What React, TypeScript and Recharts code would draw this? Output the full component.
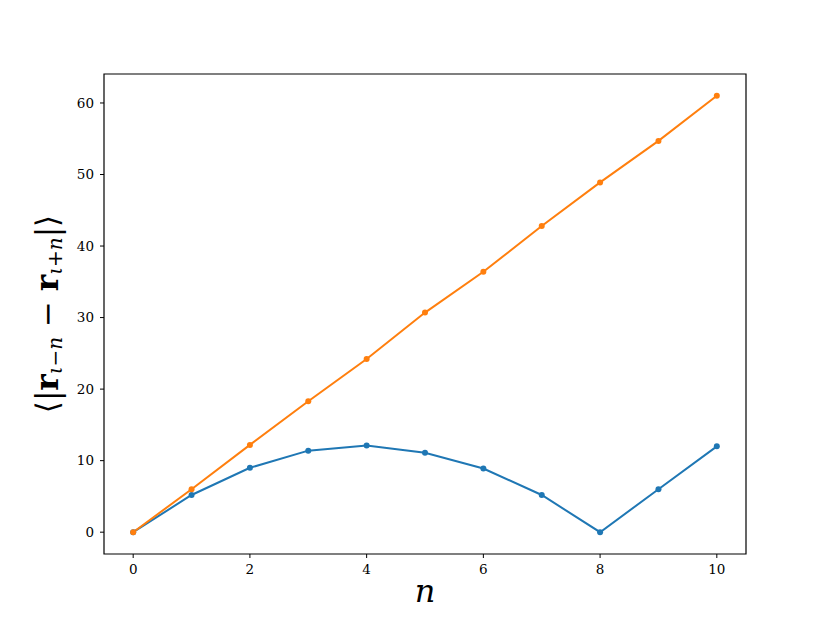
import React from "react";
import { LineChart, Line, XAxis, YAxis, ReferenceArea } from "recharts";

const nValues = [0, 1, 2, 3, 4, 5, 6, 7, 8, 9, 10];
const blueValues = [0, 5.2, 9.0, 11.4, 12.1, 11.1, 8.9, 5.2, 0, 6.0, 12.0];
const orangeValues = [0, 6.0, 12.2, 18.3, 24.2, 30.7, 36.4, 42.8, 48.9, 54.7, 61.0];
const xTicks = [0, 2, 4, 6, 8, 10];
const yTicks = [0, 10, 20, 30, 40, 50, 60];
const xDomain = [-0.5, 10.5];
const yDomain = [-3.05, 64.05];

const data = nValues.map((n, i) => ({ n, blue: blueValues[i], orange: orangeValues[i] }));

const serif = "'DejaVu Serif', 'Liberation Serif', serif";
const BLUE = "#1f77b4";
const ORANGE = "#ff7f0e";

function YLabel(props: any) {
  const vb = props.viewBox || { x: 0, y: 0, width: 0, height: 0 };
  const cx = 47;
  const cy = vb.y + vb.height / 2;
  return (
    <text
      x={cx}
      y={cy}
      transform={`rotate(-90, ${cx}, ${cy})`}
      textAnchor="middle"
      dominantBaseline="central"
      fontFamily={serif}
      fontSize={31}
      fill="#000"
    >
      <tspan>⟨|</tspan>
      <tspan fontWeight="bold">r</tspan>
      <tspan fontSize={20} fontStyle="italic" dy={8}>ι−n</tspan>
      <tspan dy={-8}> − </tspan>
      <tspan fontWeight="bold">r</tspan>
      <tspan fontSize={20} fontStyle="italic" dy={8}>ι+n</tspan>
      <tspan dy={-8}>|⟩</tspan>
    </text>
  );
}

function XLabel(props: any) {
  const vb = props.viewBox || { x: 0, y: 0, width: 0, height: 0 };
  return (
    <text
      x={vb.x + vb.width / 2}
      y={vb.y + 48}
      textAnchor="middle"
      fontFamily={serif}
      fontStyle="italic"
      fontSize={32}
      fill="#000"
    >
      n
    </text>
  );
}

export default function App() {
  const tickStyle = { fontFamily: serif, fontSize: 13.5, fill: "#000" };
  return (
    <div style={{ position: "absolute", left: 0, top: 0, background: "#fff" }}>
      <LineChart
        width={830}
        height={623}
        data={data}
        margin={{ top: 74, right: 84, left: 44, bottom: 9 }}
      >
        <XAxis
          dataKey="n"
          type="number"
          domain={xDomain}
          ticks={xTicks}
          allowDataOverflow
          height={60}
          axisLine={false}
          tickLine={{ stroke: "#000" }}
          tickSize={4}
          tick={tickStyle}
          tickMargin={6}
          label={<XLabel />}
        />
        <YAxis
          type="number"
          domain={yDomain}
          ticks={yTicks}
          allowDataOverflow
          width={60}
          axisLine={false}
          tickLine={{ stroke: "#000" }}
          tickSize={4}
          tick={tickStyle}
          tickMargin={6}
          label={<YLabel />}
        />
        <ReferenceArea
          x1={xDomain[0]}
          x2={xDomain[1]}
          y1={yDomain[0]}
          y2={yDomain[1]}
          fill="none"
          fillOpacity={0}
          stroke="#000"
          strokeWidth={1.2}
          ifOverflow="visible"
        />
        <Line
          dataKey="blue"
          stroke={BLUE}
          strokeWidth={2}
          dot={{ r: 3, fill: BLUE, stroke: BLUE, strokeWidth: 0 }}
          activeDot={false}
          isAnimationActive={false}
        />
        <Line
          dataKey="orange"
          stroke={ORANGE}
          strokeWidth={2}
          dot={{ r: 3, fill: ORANGE, stroke: ORANGE, strokeWidth: 0 }}
          activeDot={false}
          isAnimationActive={false}
        />
      </LineChart>
    </div>
  );
}
